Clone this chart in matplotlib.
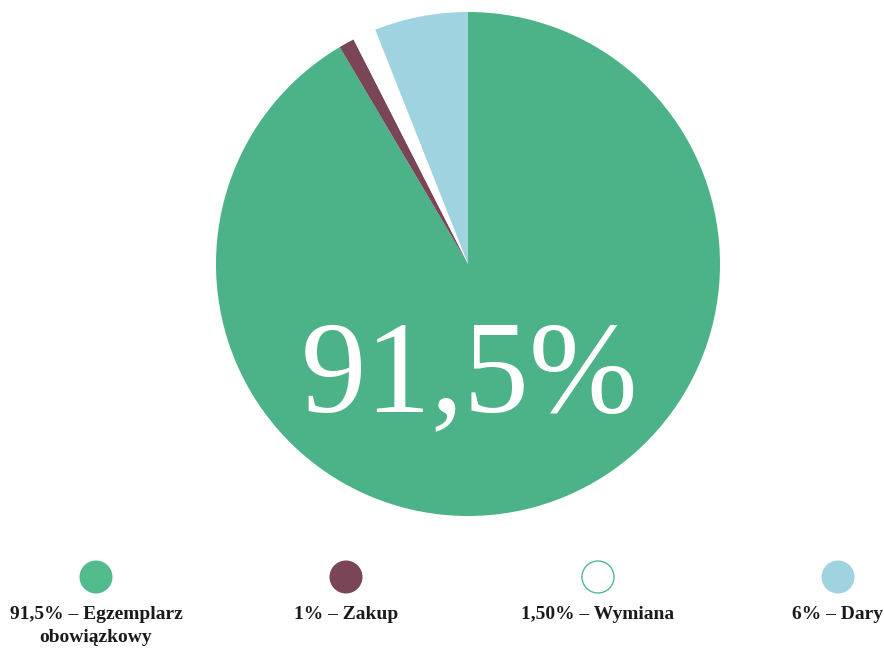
import matplotlib.pyplot as plt
from matplotlib.patches import Circle

# data
labels = ['91,5% – Egzemplarz\nobowiązkowy', '1% – Zakup', '1,50% – Wymiana', '6% – Dary']
values = [91.5, 1, 1.5, 6]
colors = ['#4CB288', '#7A4556', '#FFFFFF', '#A0D3E0']
legend_x = [96, 346, 598, 838]
legend_colors = ['#52BB8E', '#7A4556', '#FFFFFF', '#A0D3E0']
big_label = '91,5%'

W, H = 884, 649
fig = plt.figure(figsize=(W / 100, H / 100), dpi=100)
ax = fig.add_axes([0, 0, 1, 1])

# pie, in pixel coordinates (y measured from bottom)
ax.pie(values, colors=colors, startangle=90, counterclock=False,
       center=(468, H - 264), radius=252, frame=True,
       wedgeprops=dict(linewidth=0))

ax.text(470, H - 411, big_label, color='white', fontsize=94,
        family='Liberation Serif', ha='center', va='baseline')

# legend
for x, lab, c in zip(legend_x, labels, legend_colors):
    if c == '#FFFFFF':
        circ = Circle((x, H - 577), 16, facecolor='white', edgecolor='#52BB8E', linewidth=1)
    else:
        circ = Circle((x, H - 577), 16.5, facecolor=c, edgecolor='none')
    ax.add_patch(circ)
    ax.text(x, H - 606, lab, fontsize=14, fontweight='bold', family='Liberation Serif',
            ha='center', va='top', linespacing=1.5, color='#1a1a1a')

ax.set_xlim(0, W)
ax.set_ylim(0, H)
ax.set_aspect('equal')
ax.axis('off')

fig.savefig('out.png', dpi=100, facecolor='white')
